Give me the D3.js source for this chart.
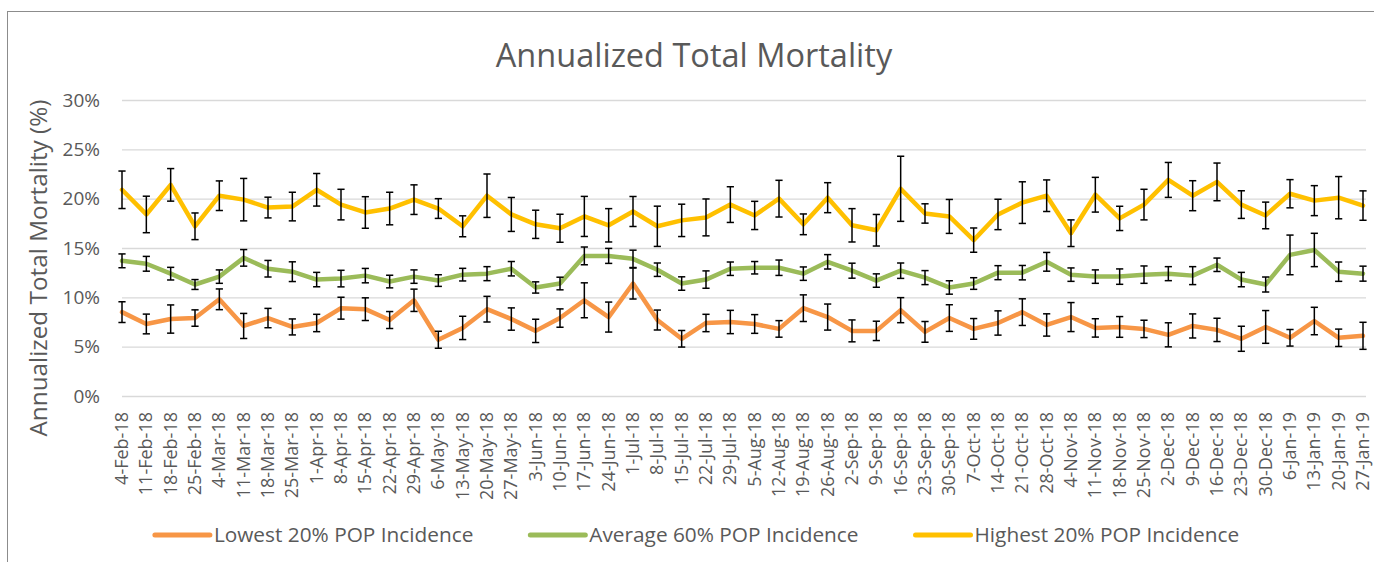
<!DOCTYPE html>
<html>
<head>
<meta charset="utf-8">
<script src="https://cdn.jsdelivr.net/npm/d3@7"></script>
<style>
  html, body { margin: 0; padding: 0; background: #fff; }
  svg text { font-family: "Open Sans", sans-serif; fill: #595959; }
</style>
</head>
<body>
<svg id="chart" width="1374" height="562"></svg>
<script>
const weeks = ["4-Feb-18","11-Feb-18","18-Feb-18","25-Feb-18","4-Mar-18","11-Mar-18","18-Mar-18","25-Mar-18",
  "1-Apr-18","8-Apr-18","15-Apr-18","22-Apr-18","29-Apr-18","6-May-18","13-May-18","20-May-18","27-May-18",
  "3-Jun-18","10-Jun-18","17-Jun-18","24-Jun-18","1-Jul-18","8-Jul-18","15-Jul-18","22-Jul-18","29-Jul-18",
  "5-Aug-18","12-Aug-18","19-Aug-18","26-Aug-18","2-Sep-18","9-Sep-18","16-Sep-18","23-Sep-18","30-Sep-18",
  "7-Oct-18","14-Oct-18","21-Oct-18","28-Oct-18","4-Nov-18","11-Nov-18","18-Nov-18","25-Nov-18",
  "2-Dec-18","9-Dec-18","16-Dec-18","23-Dec-18","30-Dec-18","6-Jan-19","13-Jan-19","20-Jan-19","27-Jan-19"];

const lowestValues = [8.5,7.3,7.8,7.9,9.8,7.1,7.9,7.0,7.4,8.9,8.8,7.7,9.7,
  5.7,6.9,8.8,7.8,6.6,7.9,9.7,8.0,11.4,7.7,5.8,7.4,7.5,
  7.3,6.8,8.9,8.0,6.6,6.6,8.7,6.5,7.9,6.8,7.4,8.5,7.2,
  8.0,6.9,7.0,6.8,6.2,7.1,6.7,5.8,7.0,5.9,7.6,5.9,6.1];
const lowestErrors = [1.05,1.0,1.43,0.83,1.05,1.27,0.98,0.81,0.88,1.11,1.15,0.86,1.13,
  0.86,1.18,1.3,1.13,1.18,0.93,1.77,1.52,1.57,1.01,0.84,0.88,1.18,
  0.95,0.84,1.35,1.32,1.11,0.98,1.27,1.05,1.35,1.05,1.23,1.35,1.13,
  1.47,0.93,1.05,0.88,1.22,1.22,1.18,1.27,1.66,0.84,1.39,0.88,1.37];

const averageValues = [13.7,13.4,12.4,11.3,12.1,14.0,12.9,12.6,11.8,11.9,12.2,11.6,12.1,
  11.7,12.3,12.4,12.9,11.0,11.4,14.2,14.2,13.9,12.8,11.4,11.8,12.9,
  13.0,13.0,12.4,13.6,12.7,11.7,12.7,12.0,11.0,11.4,12.5,12.5,13.6,
  12.3,12.1,12.1,12.3,12.4,12.2,13.3,11.8,11.3,14.3,14.8,12.6,12.4];
const averageErrors = [0.7,0.75,0.64,0.5,0.68,0.84,0.84,1.0,0.73,0.84,0.73,0.64,0.68,
  0.59,0.64,0.71,0.73,0.57,0.64,0.9,0.76,0.88,0.68,0.68,0.88,0.68,
  0.63,0.78,0.68,0.73,0.76,0.68,0.78,0.71,0.68,0.59,0.71,0.73,0.95,
  0.68,0.68,0.78,0.88,0.71,0.91,0.68,0.73,0.76,2.01,1.69,0.98,0.76];

const highestValues = [20.9,18.4,21.4,17.2,20.3,19.9,19.1,19.2,20.9,19.4,18.6,19.0,19.9,
  19.0,17.2,20.3,18.4,17.4,17.0,18.2,17.3,18.7,17.2,17.8,18.1,19.4,
  18.3,20.0,17.4,20.1,17.3,16.8,21.0,18.5,18.2,15.8,18.4,19.6,20.3,
  16.5,20.4,18.0,19.4,21.9,20.3,21.7,19.4,18.3,20.5,19.8,20.1,19.3];
const highestErrors = [1.9,1.85,1.65,1.35,1.5,2.15,1.05,1.45,1.65,1.55,1.6,1.65,1.5,
  1.0,1.06,2.2,1.72,1.43,1.42,2.03,1.69,1.52,2.04,1.64,1.87,1.81,
  1.43,1.86,1.05,1.52,1.69,1.6,3.3,0.98,1.72,1.23,1.54,2.11,1.6,
  1.35,1.76,1.23,1.55,1.77,1.52,1.91,1.4,1.35,1.43,1.52,2.14,1.49];

const seriesNames = ["Lowest 20% POP Incidence","Average 60% POP Incidence","Highest 20% POP Incidence"];
const seriesColors = ["#F79646","#9BBB59","#FFC000"];
const yTicks = [0,5,10,15,20,25,30];
const chartTitle = "Annualized Total Mortality";
const yAxisTitle = "Annualized Total Mortality (%)";

const series = [
  {name: seriesNames[0], color: seriesColors[0], values: lowestValues, errors: lowestErrors},
  {name: seriesNames[1], color: seriesColors[1], values: averageValues, errors: averageErrors},
  {name: seriesNames[2], color: seriesColors[2], values: highestValues, errors: highestErrors}
];

const svg = d3.select("#chart");
const plot = {left: 122, right: 1363, top: 100, bottom: 396};

// outer chart border
svg.append("rect").attr("x", 7.5).attr("y", 11.5).attr("width", 1420).attr("height", 620)
  .attr("fill", "none").attr("stroke", "#8c8c8c").attr("stroke-width", 1);

const x = d3.scalePoint().domain(weeks).range([plot.left, plot.right]);
const y = d3.scaleLinear().domain([0, 30]).range([plot.bottom, plot.top]);

// y axis + gridlines
const yAxis = svg.append("g").attr("transform", `translate(${plot.left},0)`)
  .call(d3.axisLeft(y).tickValues(yTicks).tickFormat(d => d + "%")
    .tickSize(-(plot.right + 3 - plot.left)).tickPadding(22));
yAxis.select(".domain").remove();
yAxis.selectAll(".tick line").attr("stroke", "#d9d9d9").attr("stroke-width", 1.3);
yAxis.selectAll(".tick text").style("font-size", "19px").attr("fill", "#595959");

// x axis labels
const xAxis = svg.append("g").attr("transform", `translate(0,${plot.bottom})`)
  .call(d3.axisBottom(x).tickSize(0));
xAxis.select(".domain").remove();
xAxis.selectAll(".tick text")
  .style("font-size", "18px").attr("fill", "#595959")
  .attr("text-anchor", "end")
  .attr("transform", "rotate(-90)")
  .attr("x", -16).attr("y", 0).attr("dy", "0.3em");

// lines
const line = d3.line().x((d, i) => x(weeks[i])).y(d => y(d));
series.forEach(s => {
  svg.append("path").datum(s.values)
    .attr("fill", "none").attr("stroke", s.color).attr("stroke-width", 4.5)
    .attr("stroke-linejoin", "round").attr("stroke-linecap", "round")
    .attr("d", line);
});

// error bars
const cap = 3.6;
series.forEach(s => {
  const g = svg.append("g").attr("stroke", "#000").attr("stroke-width", 1.5).attr("fill", "none");
  s.values.forEach((v, i) => {
    const cx = x(weeks[i]);
    const yt = y(v + s.errors[i]), yb = y(v - s.errors[i]);
    g.append("line").attr("x1", cx).attr("x2", cx).attr("y1", yt).attr("y2", yb);
    g.append("line").attr("x1", cx - cap).attr("x2", cx + cap).attr("y1", yt).attr("y2", yt);
    g.append("line").attr("x1", cx - cap).attr("x2", cx + cap).attr("y1", yb).attr("y2", yb);
  });
});

// title
svg.append("text").attr("x", 694).attr("y", 67).attr("text-anchor", "middle")
  .style("font-size", "32.5px").text(chartTitle);

// y axis title
svg.append("text").attr("transform", "translate(37,268) rotate(-90)")
  .attr("text-anchor", "middle").attr("dominant-baseline", "central")
  .style("font-size", "24.3px").text(yAxisTitle);

// legend
const legend = svg.append("g");
const lineLen = 55, textGap = 4, itemGap = 57;
let cursor = 0;
series.forEach(s => {
  const item = legend.append("g").attr("transform", `translate(${cursor},0)`);
  item.append("line").attr("x1", 0).attr("x2", lineLen).attr("y1", 0).attr("y2", 0)
    .attr("stroke", s.color).attr("stroke-width", 5).attr("stroke-linecap", "round");
  const t = item.append("text").attr("x", lineLen + textGap).attr("y", 0).attr("dy", "0.35em")
    .style("font-size", "20.8px").text(s.name);
  cursor += lineLen + textGap + t.node().getComputedTextLength() + itemGap;
});
const legendWidth = cursor - itemGap;
legend.attr("transform", `translate(${697 - legendWidth / 2},535)`);
</script>
</body>
</html>
